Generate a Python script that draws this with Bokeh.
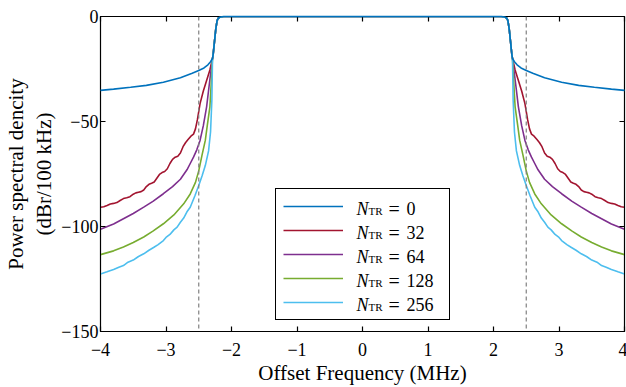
from bokeh.plotting import figure
from bokeh.models import Legend, LegendItem, Span, LinearAxis, FixedTicker, Range1d, ColumnDataSource
from bokeh.core.properties import value
from bokeh.embed import file_html
from bokeh.resources import INLINE

# ---------------- data (right half; spectrum is symmetric) ----------------
passband_f = [0.0, 1.0, 2.0, 2.12, 2.17, 2.20, 2.22, 2.24, 2.26, 2.28, 2.29]
passband_db = [0.0, 0.0, 0.0, 0.0, -0.2, -0.7, -2.0, -6.0, -12.0, -18.0, -20.0]

n0_f = [2.32, 2.36, 2.42, 2.50, 2.60, 2.78, 3.04, 3.30, 3.54, 3.80, 4.00]
n0_db = [-21.5, -23.0, -24.5, -25.7, -27.0, -29.2, -31.3, -32.8, -33.7, -34.6, -35.2]

n32_f = [2.33, 2.38, 2.43, 2.48, 2.52, 2.55, 2.58, 2.62, 2.66, 2.70, 2.74, 2.78, 2.82,
         2.86, 2.90, 2.94, 2.98, 3.02, 3.06, 3.10, 3.14, 3.18, 3.22, 3.26, 3.30, 3.34,
         3.38, 3.42, 3.46, 3.50, 3.55, 3.60, 3.65, 3.70, 3.75, 3.80, 3.85, 3.90, 3.95, 4.00]
n32_db = [-25.5, -30.5, -35.5, -41.5, -49.0, -53.5, -56.0, -57.0, -58.5, -60.0, -62.0, -65.0, -66.5,
          -67.0, -68.0, -70.0, -72.5, -73.8, -74.3, -75.2, -77.0, -78.8, -79.4, -79.9, -81.0, -82.6,
          -83.4, -83.7, -84.0, -84.6, -85.8, -86.3, -86.7, -87.6, -88.6, -89.0, -89.3, -90.0, -90.6, -90.8]

n64_f = [2.33, 2.38, 2.43, 2.48, 2.53, 2.58, 2.63, 2.68, 2.78, 2.90, 3.04, 3.20, 3.34, 3.50, 3.65, 3.80, 4.00]
n64_db = [-30.0, -43.0, -52.0, -59.0, -63.5, -67.0, -70.0, -73.0, -77.5, -81.0, -84.4, -88.0, -90.8, -93.8, -96.3, -98.8, -101.3]

n128_f = [2.31, 2.33, 2.37, 2.40, 2.45, 2.50, 2.55, 2.63, 2.73, 2.88, 3.04, 3.20, 3.34, 3.50, 3.65, 3.80, 4.00]
n128_db = [-32.0, -43.0, -52.0, -59.0, -66.0, -73.5, -79.0, -84.5, -89.2, -94.5, -98.7, -102.2, -105.0, -107.6, -109.8, -111.6, -113.4]

n256_f = [2.30, 2.32, 2.35, 2.40, 2.45, 2.50, 2.56, 2.63, 2.68, 2.73, 2.78, 2.83, 2.88, 2.94, 3.00, 3.04,
          3.12, 3.19, 3.26, 3.34, 3.42, 3.50, 3.58, 3.65, 3.72, 3.80, 3.90, 4.00]
n256_db = [-40.0, -55.0, -64.0, -71.0, -76.0, -80.5, -85.5, -90.8, -93.0, -96.0, -98.0, -100.3, -101.6, -103.8, -105.2, -106.7,
           -108.6, -110.0, -111.3, -113.0, -114.3, -116.0, -117.0, -118.6, -119.4, -120.5, -121.6, -122.6]

series_names = ["0", "32", "64", "128", "256"]
series_colors = ["#0072BD", "#A2142F", "#7E2F8E", "#77AC30", "#4DBEEE"]
series_f = [n0_f, n32_f, n64_f, n128_f, n256_f]
series_db = [n0_db, n32_db, n64_db, n128_db, n256_db]

mask_edges = [-2.5, 2.5]
x_ticks = [-4, -3, -2, -1, 0, 1, 2, 3, 4]
x_tick_labels = ["\u22124", "\u22123", "\u22122", "\u22121", "0", "1", "2", "3", "4"]
y_ticks = [-150, -100, -50, 0]
y_tick_labels = ["\u2212150", "\u2212100", "\u221250", "0"]

FONT = "Liberation Serif"

# ---------------- figure ----------------
FL, FT, FW, FH = 100, 16, 524, 315
p = figure(frame_width=FW, frame_height=FH, min_border_left=FL, min_border_top=FT,
           min_border_right=1, min_border_bottom=56,
           x_range=Range1d(-4, 4), y_range=Range1d(-150, 0),
           output_backend="svg", toolbar_location=None)
p.grid.visible = False
p.outline_line_color = "black"
p.outline_line_width = 1.2
p.background_fill_color = "white"
p.border_fill_color = "white"

def style_axis(ax, ticks, labels):
    ax.ticker = FixedTicker(ticks=ticks)
    ax.major_label_overrides = {t: l for t, l in zip(ticks, labels)}
    ax.major_tick_in = 5
    ax.major_tick_out = 0
    ax.minor_tick_in = 0
    ax.minor_tick_out = 0
    ax.axis_line_color = "black"
    ax.major_tick_line_color = "black"
    ax.major_tick_line_width = 1.2
    ax.major_label_text_font = FONT
    ax.major_label_text_font_size = "18px"
    ax.major_label_text_color = "black"
    ax.axis_label_text_font = FONT
    ax.axis_label_text_font_size = "21px"
    ax.axis_label_text_font_style = "normal"
    ax.axis_label_text_color = "black"

style_axis(p.xaxis[0], x_ticks, x_tick_labels)
style_axis(p.yaxis[0], y_ticks, y_tick_labels)
p.xaxis[0].axis_label = "Offset Frequency (MHz)"
p.xaxis[0].major_label_standoff = 11
p.xaxis[0].axis_label_standoff = 2
p.yaxis[0].axis_label = "Power spectral dencity\n(dBr/100 kHz)"
p.yaxis[0].major_label_standoff = 2
p.yaxis[0].axis_label_standoff = 2

top_ax = LinearAxis()
right_ax = LinearAxis()
for ax, t in ((top_ax, x_ticks), (right_ax, y_ticks)):
    style_axis(ax, t, [" " for _ in t])
    ax.major_label_text_font_size = "1px"
    ax.major_label_standoff = 0
p.add_layout(top_ax, "above")
p.add_layout(right_ax, "right")

for loc in mask_edges:
    p.add_layout(Span(location=loc, dimension="height", line_color="#808080",
                      line_dash="4 3", line_width=1.2))

renderers = []
for f, db, col in zip(series_f, series_db, series_colors):
    right_f = passband_f + f
    right_db = passband_db + db
    xs = [-v for v in reversed(right_f[1:])] + right_f
    ys = list(reversed(right_db[1:])) + right_db
    r = p.line(xs, ys, line_color=col, line_width=1.6)
    renderers.append(r)
renderers[0].level = "overlay"

legend = Legend(items=[LegendItem(label=" ", renderers=[r]) for r in renderers],
                location=(175, 11), orientation="vertical",
                padding=7, spacing=4, margin=0,
                glyph_width=60, glyph_height=20, label_height=20, label_width=88,
                label_standoff=11, border_line_color="black", border_line_width=1.2,
                border_line_alpha=1.0,
                background_fill_color="white", background_fill_alpha=0.0,
                label_text_font=FONT, label_text_font_size="18px")
p.add_layout(legend, "center")

# legend texts (italic N, small TR, "=", value), placed at the legend rows
def xd(px):
    return (px - FL) / FW * 8 - 4

def yd(px):
    return -(px - FT) / FH * 150

row_centers = [207, 231, 255, 279, 303]
src = ColumnDataSource(dict(
    yb=[yd(c + 1) for c in row_centers], ys=[yd(c + 3) for c in row_centers],
    xn=[xd(356)] * 5, xs=[xd(368)] * 5, xe=[xd(388)] * 5, xv=[xd(406)] * 5,
    n=["N"] * 5, s=["TR"] * 5, e=["="] * 5, v=series_names))
for xcol, ycol, tcol, size, style in (("xn", "yb", "n", "18px", "italic"),
                                      ("xs", "ys", "s", "11px", "normal"),
                                      ("xe", "yb", "e", "20px", "normal"),
                                      ("xv", "yb", "v", "18px", "normal")):
    p.text(x=xcol, y=ycol, text=tcol, source=src, text_font=value(FONT),
           text_font_size=value(size), text_font_style=style,
           text_baseline="middle", text_align="left", text_color="black")

open("out.html", "w").write(file_html(p, INLINE))
